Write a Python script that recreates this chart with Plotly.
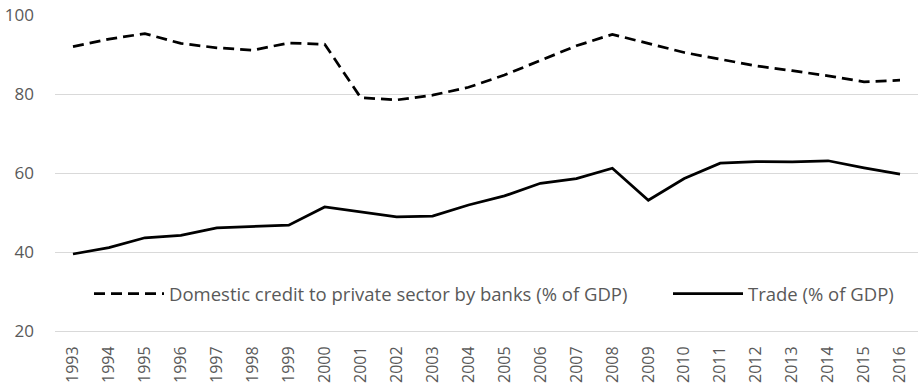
import plotly.graph_objects as go

years = [str(y) for y in range(1993, 2017)]
credit = [92.0, 93.9, 95.3, 92.8, 91.7, 91.1, 92.9, 92.6, 79.1, 78.5, 79.7, 81.7,
          84.8, 88.4, 92.2, 95.1, 92.8, 90.5, 88.8, 87.1, 85.9, 84.6, 83.1, 83.5]
trade = [39.5, 41.1, 43.6, 44.2, 46.1, 46.5, 46.8, 51.4, 50.1, 48.9, 49.1, 51.9,
         54.2, 57.4, 58.6, 61.2, 53.1, 58.6, 62.5, 62.9, 62.8, 63.1, 61.3, 59.7]
y_ticks = [20, 40, 60, 80, 100]

FONT = "Open Sans"
GREY = "#595959"

fig = go.Figure()
fig.add_trace(go.Scatter(
    x=years, y=credit, mode="lines",
    name="Domestic credit to private sector by banks (% of GDP)",
    line=dict(color="black", width=2.75, dash="11px,6px"),
    legendwidth=494,
))
fig.add_trace(go.Scatter(
    x=years, y=trade, mode="lines",
    name="Trade (% of GDP)",
    line=dict(color="black", width=2.75),
    legendwidth=160,
))

fig.update_layout(
    width=918, height=392,
    margin=dict(l=55, r=0, t=15, b=61),
    paper_bgcolor="white", plot_bgcolor="white",
    font=dict(family=FONT, size=17, color=GREY),
    showlegend=True,
    legend=dict(
        orientation="h", x=0.0394, y=0.117, xanchor="left", yanchor="middle",
        bgcolor="rgba(0,0,0,0)", font=dict(family=FONT, size=18.5, color=GREY),
        itemwidth=70, traceorder="normal",
    ),
    xaxis=dict(
        type="category", range=[-0.5, 23.5], tickangle=-90, showgrid=False,
        showline=True, linecolor="#d9d9d9", linewidth=1,
        zeroline=False, tickfont=dict(family=FONT, size=16, color=GREY),
        ticks="", ticklabelstandoff=8, automargin=False,
    ),
    yaxis=dict(
        range=[20, 100], tickvals=y_ticks, showgrid=True, gridcolor="#d9d9d9",
        gridwidth=1, zeroline=False, showline=False, ticks="",
        tickfont=dict(family=FONT, size=17, color=GREY), ticklabelstandoff=20,
        automargin=False,
    ),
)

fig.write_html("out.html", config={"displayModeBar": False},
               post_script="document.body.style.margin='0';")
